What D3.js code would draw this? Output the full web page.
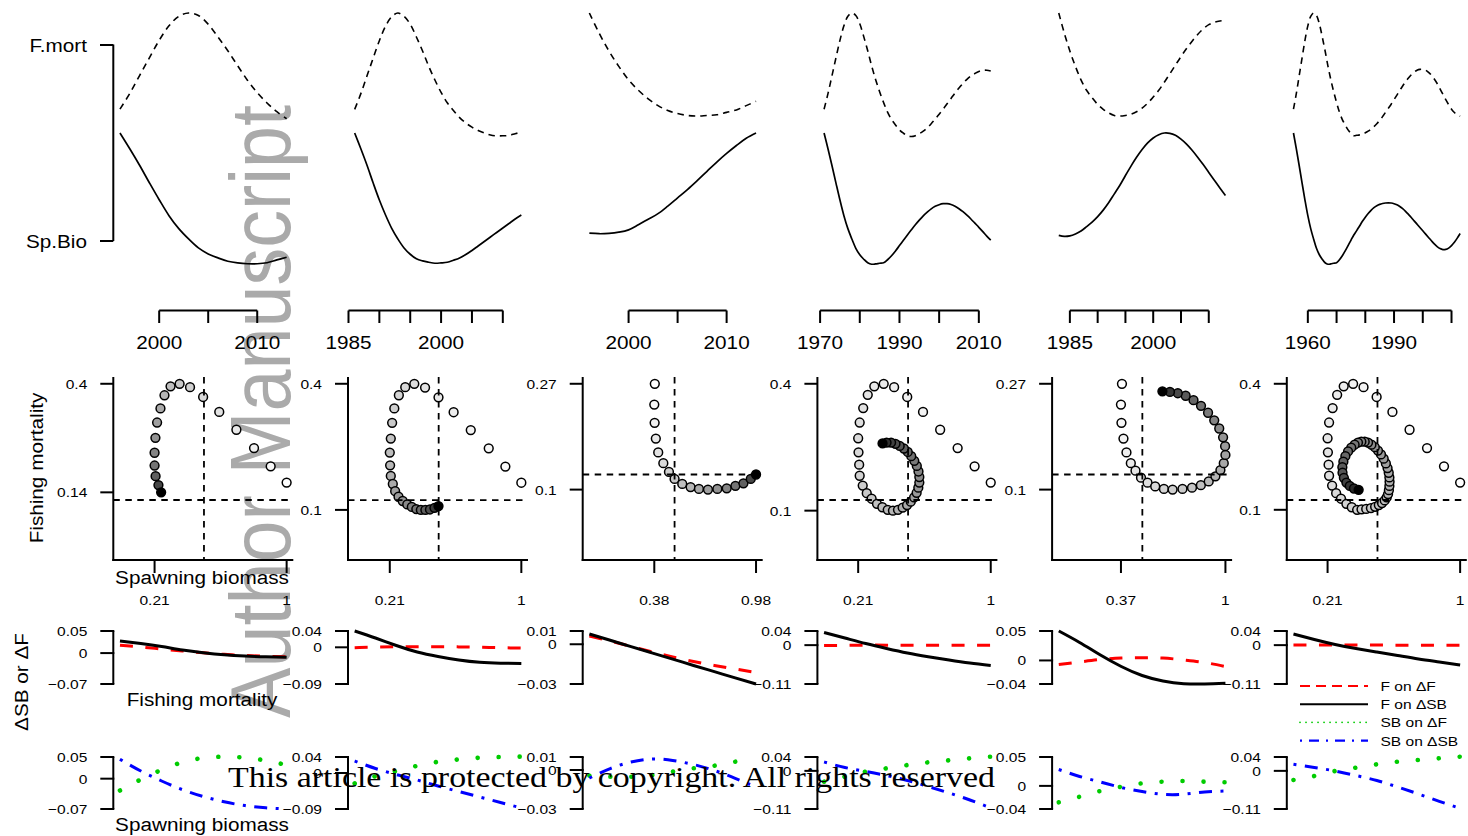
<!DOCTYPE html>
<html><head><meta charset="utf-8">
<script src="https://cdn.jsdelivr.net/npm/d3@7"></script>
<style>
html,body{margin:0;padding:0;background:#fff;}
svg{display:block;}
text{font-family:"Liberation Sans",Arial,sans-serif;fill:#000;}
</style></head><body>
<svg id="chart" width="1468" height="836"></svg>
<script>
// ---------------- DATA ----------------
const firstYears = [1996, 1986, 1996, 1971, 1983, 1955];

const sbCol1 = [0.992,0.897,0.798,0.693,0.591,0.495,0.417,0.355,0.301,0.265,0.241,0.221,0.211,0.206,0.206,0.212,0.229,0.245];
const fCol1  = [0.166,0.204,0.247,0.290,0.332,0.367,0.390,0.398,0.392,0.371,0.340,0.307,0.271,0.236,0.206,0.181,0.160,0.143];

const sbCol2 = [0.992,0.897,0.798,0.691,0.589,0.499,0.419,0.355,0.301,0.263,0.236,0.223,0.215,0.209,0.211,0.215,0.227,0.241,0.261,0.286,0.313,0.340,0.367,0.394,0.421,0.448,0.475,0.499];
const fCol2  = [0.166,0.204,0.247,0.290,0.332,0.367,0.390,0.399,0.391,0.372,0.341,0.307,0.270,0.237,0.207,0.182,0.163,0.146,0.133,0.123,0.115,0.109,0.104,0.102,0.102,0.103,0.107,0.111];

const sbCol3 = [0.384,0.381,0.383,0.390,0.404,0.434,0.467,0.500,0.545,0.594,0.643,0.696,0.751,0.806,0.857,0.904,0.947,0.978];
const fCol3  = [0.269,0.236,0.207,0.182,0.160,0.143,0.129,0.118,0.110,0.105,0.102,0.101,0.102,0.103,0.107,0.111,0.118,0.125];

const sbCol4 = [0.992,0.896,0.795,0.691,0.589,0.495,0.417,0.355,0.299,0.260,0.233,0.212,0.203,0.205,0.209,0.212,0.230,0.254,0.283,0.315,0.347,0.379,
                0.410,0.440,0.468,0.494,0.516,0.536,0.551,0.561,0.567,0.567,0.562,0.552,0.537,0.519,0.498,0.475,0.450,0.425,0.399,0.372,0.348];
const fCol4  = [0.166,0.204,0.247,0.290,0.332,0.367,0.390,0.398,0.392,0.372,0.341,0.307,0.270,0.237,0.208,0.182,0.159,0.141,0.128,0.116,0.108,0.102,
                0.100,0.102,0.107,0.113,0.121,0.131,0.142,0.154,0.166,0.179,0.192,0.205,0.217,0.228,0.238,0.246,0.252,0.257,0.260,0.260,0.258];

const sbCol5 = [0.378,0.372,0.375,0.387,0.405,0.431,0.459,0.492,0.531,0.577,0.629,0.681,
                0.740,0.797,0.850,0.897,0.937,0.967,0.987,0.997,0.995,0.983,0.960,0.930,0.893,0.851,0.806,0.759,0.712,0.665,0.620];
const fCol5  = [0.269,0.236,0.207,0.182,0.160,0.143,0.131,0.120,0.112,0.106,0.102,0.101,
                0.102,0.104,0.108,0.114,0.122,0.132,0.143,0.156,0.170,0.184,0.198,0.211,0.223,0.234,0.243,0.250,0.254,0.256,0.257];

const sbCol6 = [0.992,0.896,0.795,0.691,0.589,0.495,0.417,0.355,0.299,0.260,0.233,0.212,0.203,0.205,0.209,0.212,0.230,0.254,0.283,0.315,0.347,0.379,
                0.405,0.433,0.461,0.486,0.508,0.527,0.543,0.555,0.563,0.568,0.571,0.572,0.571,0.567,0.560,0.550,0.537,0.521,0.503,0.484,0.464,
                0.444,0.424,0.404,0.384,0.364,0.344,0.325,0.309,0.297,0.291,0.292,0.300,0.315,0.335,0.360,0.388];
const fCol6  = [0.166,0.204,0.247,0.290,0.332,0.367,0.390,0.398,0.392,0.372,0.341,0.307,0.270,0.237,0.208,0.182,0.159,0.141,0.128,0.116,0.108,0.102,
                0.103,0.104,0.106,0.109,0.113,0.118,0.124,0.131,0.139,0.148,0.158,0.168,0.178,0.189,0.200,0.211,0.222,0.232,0.241,0.249,0.255,
                0.260,0.262,0.262,0.260,0.255,0.248,0.239,0.228,0.215,0.202,0.189,0.177,0.166,0.158,0.152,0.149];

const yearTicks = [[2000,2005,2010],[1985,1990,1995,2000,2005,2010],[2000,2005,2010],
                   [1970,1980,1990,2000,2010],[1985,1990,1995,2000,2005,2010],[1960,1970,1980,1990,2000,2010]];
const yearLabels = [[2000,2010],[1985,2000],[2000,2010],[1970,1990,2010],[1985,2000],[1960,1990]];

const fTickLabels  = [["0.4","0.14"],["0.4","0.1"],["0.27","0.1"],["0.4","0.1"],["0.27","0.1"],["0.4","0.1"]];
const sbTickLabels = [["0.21","1"],["0.21","1"],["0.38","0.98"],["0.21","1"],["0.37","1"],["0.21","1"]];
const fRef = 0.125, sbRef = 0.5;

// effect curves (9 positions along x range)
const fOnDF1 = [0.018,0.0138,0.0092,0.0047,0.0006,-0.0028,-0.0055,-0.0071,-0.0082];
const fOnDSB1 = [0.0274,0.0217,0.0149,0.007,0.0009,-0.0037,-0.0066,-0.0084,-0.0095];
const sbOnDF1 = [-0.0273,-0.0019,0.0205,0.038,0.0477,0.0507,0.0484,0.0419,0.0315];
const sbOnDSB1 = [0.0447,0.0177,-0.0054,-0.0255,-0.0412,-0.0534,-0.062,-0.0672,-0.07];

const fOnDF2 = [-0.001,0.0005,0.0012,0.0015,0.0015,0.001,0,-0.001,-0.002];
const fOnDSB2 = [0.04,0.0228,0.0044,-0.0115,-0.0225,-0.0311,-0.0368,-0.039,-0.0397];
const sbOnDF2 = [-0.026,-0.008,0.005,0.018,0.028,0.034,0.038,0.04,0.041];
const sbOnDSB2 = [0.03,0.0113,-0.0038,-0.0175,-0.0325,-0.0463,-0.06,-0.0738,-0.0875];

const fOnDF3 = [0.0062,0.0025,-0.0017,-0.0058,-0.0096,-0.013,-0.016,-0.0187,-0.0213];
const fOnDSB3 = [0.0077,0.003,-0.0018,-0.0065,-0.0112,-0.016,-0.0207,-0.0254,-0.03];
const sbOnDF3 = [-0.0044,-0.0052,-0.0052,-0.0039,-0.0013,0.0013,0.0033,0.0064,0.0071];
const sbOnDSB3 = [-0.0062,0.0011,0.0061,0.0085,0.0073,0.0042,-0.0004,-0.0064,-0.0131];

const fOnDF4 = [-0.001,-0.0005,0,0,0,0,0,0,0];
const fOnDSB4 = [0.0357,0.0202,0.0046,-0.0095,-0.0223,-0.0327,-0.0421,-0.0506,-0.0576];
const sbOnDF4 = [-0.0312,-0.0168,-0.0024,0.0074,0.0169,0.0247,0.0305,0.0363,0.0409];
const sbOnDSB4 = [0.0256,0.0097,-0.0018,-0.0134,-0.0278,-0.0451,-0.0638,-0.084,-0.1071];

const fOnDF5 = [-0.0069,-0.0026,0.0016,0.0041,0.0047,0.0041,0.0008,-0.0035,-0.0103];
const fOnDSB5 = [0.05,0.0305,0.0092,-0.0103,-0.0256,-0.0349,-0.0395,-0.04,-0.0388];
const sbOnDF5 = [-0.0284,-0.0187,-0.0088,-0.0014,0.0045,0.0073,0.0085,0.0073,0.0062];
const sbOnDSB5 = [0.0284,0.0163,0.0067,-0.0028,-0.0097,-0.0146,-0.0144,-0.0106,-0.0088];

const fOnDF6 = [0.0005,0.0004,0.0003,0.0002,0.0001,0,0,-0.0001,-0.0002];
const fOnDSB6 = [0.0315,0.0159,0.0018,-0.0095,-0.0194,-0.0293,-0.0393,-0.0477,-0.0562];
const sbOnDF6 = [-0.0263,-0.0148,-0.0004,0.0092,0.019,0.0265,0.0314,0.0363,0.0409];
const sbOnDSB6 = [0.019,0.0097,-0.0004,-0.0134,-0.0278,-0.0465,-0.0667,-0.0878,-0.108];

const deltaTop    = [0.05, 0.04, 0.01, 0.04, 0.05, 0.04];
const deltaBottom = [-0.07, -0.09, -0.03, -0.11, -0.04, -0.11];
const deltaTopLabels    = ["0.05","0.04","0.01","0.04","0.05","0.04"];
const deltaBottomLabels = ["\u22120.07","\u22120.09","\u22120.03","\u22120.11","\u22120.04","\u22120.11"];

const legendLabels = ["F on \u0394F", "F on \u0394SB", "SB on \u0394F", "SB on \u0394SB"];

// ------------- assemble -------------
const sbCols = [sbCol1, sbCol2, sbCol3, sbCol4, sbCol5, sbCol6];
const fCols  = [fCol1, fCol2, fCol3, fCol4, fCol5, fCol6];
const effects = [
  [fOnDF1, fOnDSB1, sbOnDF1, sbOnDSB1],
  [fOnDF2, fOnDSB2, sbOnDF2, sbOnDSB2],
  [fOnDF3, fOnDSB3, sbOnDF3, sbOnDSB3],
  [fOnDF4, fOnDSB4, sbOnDF4, sbOnDSB4],
  [fOnDF5, fOnDSB5, sbOnDF5, sbOnDSB5],
  [fOnDF6, fOnDSB6, sbOnDF6, sbOnDSB6]
];

// ------------- layout -------------
const svg = d3.select('#chart');
const K = 1.15; // horizontal glyph widening of original font
const colLeft = i => 113.3 + i * 234.7;
const PW = 180;
const EXP = 0.04;
const AX = 2; // axis line width
const LBL = 26; // gap from axis to right edge of tick label

function stretch(sel, k) {
  sel.each(function () {
    const w = this.getComputedTextLength();
    this.setAttribute('textLength', w * (k || K));
    this.setAttribute('lengthAdjust', 'spacingAndGlyphs');
  });
  return sel;
}
function text(g, x, y, s, size, anchor, rot) {
  const t = g.append('text')
    .attr('font-size', size)
    .attr('text-anchor', anchor || 'start')
    .text(s);
  if (rot) t.attr('transform', `translate(${x},${y}) rotate(${rot})`);
  else t.attr('x', x).attr('y', y);
  stretch(t);
  return t;
}
function line(g, x1, y1, x2, y2, w) {
  g.append('line').attr('x1', x1).attr('y1', y1).attr('x2', x2).attr('y2', y2)
    .attr('stroke', '#000').attr('stroke-width', w || AX).attr('stroke-linecap', 'butt');
}

// watermark (behind)
const wm = svg.append('text')
  .attr('transform', 'translate(290,718) rotate(-90)')
  .attr('font-size', 86)
  .style('fill', '#aaaaaa')
  .text('Author Manuscript');
wm.attr('textLength', 613).attr('lengthAdjust', 'spacingAndGlyphs');

const g = svg.append('g');

// ---- Row 1: time series ----
const yFn = d3.scaleLinear().domain([0, 1]).range([178, 13]);
const ySBn = d3.scaleLinear().domain([0, 1]).range([298, 133]);

for (let c = 0; c < 6; c++) {
  const sb = sbCols[c], f = fCols[c], n = sb.length;
  const y0 = firstYears[c], y1 = y0 + n - 1;
  const pad = (y1 - y0) * EXP;
  const x = d3.scaleLinear().domain([y0 - pad, y1 + pad]).range([colLeft(c), colLeft(c) + PW]);
  const years = d3.range(y0, y1 + 1);
  const fMax = d3.max(f), sbMax = d3.max(sb);
  const gg = g.append('g');
  gg.append('path')
    .attr('d', d3.line().x((d, i) => x(years[i])).y(d => yFn(d / fMax)).curve(d3.curveCatmullRom.alpha(0.5))(f))
    .attr('fill', 'none').attr('stroke', '#000').attr('stroke-width', 1.6).attr('stroke-dasharray', '6.5 5');
  gg.append('path')
    .attr('d', d3.line().x((d, i) => x(years[i])).y(d => ySBn(d / sbMax)).curve(d3.curveCatmullRom.alpha(0.5))(sb))
    .attr('fill', 'none').attr('stroke', '#000').attr('stroke-width', 1.7);
  // year axis
  const tk = yearTicks[c];
  line(gg, x(tk[0]), 310.5, x(tk[tk.length - 1]), 310.5);
  tk.forEach(t => line(gg, x(t), 310.5, x(t), 323));
  yearLabels[c].forEach(t => text(gg, x(t), 349, String(t), 18, 'middle'));
}
// row1 y axis (col 1)
line(g, 113.3, 44.5, 113.3, 241);
line(g, 100, 45, 113.3, 45);
line(g, 100, 241, 113.3, 241);
text(g, 87, 51.5, 'F.mort', 18, 'end');
text(g, 87, 247.5, 'Sp.Bio', 18, 'end');

// ---- Row 2: phase plots ----
const PT = 377, PB = 560;
for (let c = 0; c < 6; c++) {
  const sb = sbCols[c], f = fCols[c], n = sb.length;
  const sbMax = d3.max(sb), fMax = d3.max(f);
  const sbMin = d3.min(sb), fMin = d3.min(f);
  const L = colLeft(c);
  const x = d3.scaleLinear().domain([-sbMax * EXP, sbMax * (1 + EXP)]).range([L, L + PW]);
  const y = d3.scaleLinear().domain([-fMax * EXP, fMax * (1 + EXP)]).range([PB, PT]);
  const gg = g.append('g');
  const pts = sb.map((s, i) => ({ s, f: f[i], i }));
  gg.selectAll('circle').data(pts).enter().append('circle')
    .attr('cx', d => x(d.s)).attr('cy', d => y(d.f)).attr('r', 4.4)
    .attr('fill', d => { const v = Math.round(255 * Math.pow(1 - d.i / (n - 1), 1 / 2.2)); return `rgb(${v},${v},${v})`; })
    .attr('stroke', '#000').attr('stroke-width', 1.5);
  // reference lines
  gg.append('line').attr('x1', x(sbRef)).attr('x2', x(sbRef)).attr('y1', PT).attr('y2', PB)
    .attr('stroke', '#000').attr('stroke-width', 1.8).attr('stroke-dasharray', '6.5 5.5');
  gg.append('line').attr('x1', L).attr('x2', L + PW).attr('y1', y(fRef)).attr('y2', y(fRef))
    .attr('stroke', '#000').attr('stroke-width', 1.8).attr('stroke-dasharray', '6.5 5.5');
  // axes (L box)
  line(gg, L, PT, L, PB + 1);
  line(gg, L - 1, PB, L + PW, PB);
  [fMax, fMin].forEach((v, k) => {
    line(gg, L - 13, y(v), L, y(v));
    text(gg, L - LBL, y(v) + 5, fTickLabels[c][k], 13.5, 'end');
  });
  [sbMin, sbMax].forEach((v, k) => {
    line(gg, x(v), PB, x(v), PB + 13);
    text(gg, x(v), 605, sbTickLabels[c][k], 13.5, 'middle');
  });
}
text(g, 43, 468, 'Fishing mortality', 18, 'middle', -90);
text(g, 202, 584, 'Spawning biomass', 18, 'middle');

// ---- Rows 3 & 4: effect curves ----
const rowsY = [[684, 631], [809, 757]];
const styles = [
  { color: '#ff0000', w: 3, dash: '13 12.5', cap: 'butt' },
  { color: '#000000', w: 3, dash: null, cap: 'butt' },
  { color: '#00cc00', w: 4.6, dash: '0.01 21', cap: 'round' },
  { color: '#0000ff', w: 3, dash: '3 8.5 13 8.5', cap: 'butt' }
];
for (let c = 0; c < 6; c++) {
  const L = colLeft(c);
  const gg = g.append('g');
  for (let r = 0; r < 2; r++) {
    const [yb, yt] = rowsY[r];
    const y = d3.scaleLinear().domain([deltaBottom[c], deltaTop[c]]).range([yb, yt]);
    const series = r === 0 ? [0, 1] : [2, 3];
    series.forEach(sIdx => {
      const vals = effects[c][sIdx];
      const m = vals.length;
      const x = d3.scaleLinear().domain([-(m - 1) * EXP, (m - 1) * (1 + EXP)]).range([L, L + PW]);
      const st = styles[sIdx];
      const p = gg.append('path')
        .attr('d', d3.line().x((d, i) => x(i)).y(d => y(d)).curve(d3.curveNatural)(vals))
        .attr('fill', 'none').attr('stroke', st.color).attr('stroke-width', st.w)
        .attr('stroke-linecap', st.cap);
      if (st.dash) p.attr('stroke-dasharray', st.dash);
    });
    // axis
    line(gg, L, yt, L, yb);
    [[deltaTop[c], deltaTopLabels[c]], [0, '0'], [deltaBottom[c], deltaBottomLabels[c]]].forEach(([v, lab]) => {
      line(gg, L - 13, y(v), L + 1, y(v));
      text(gg, L - LBL, y(v) + 5, lab, 13.5, 'end');
    });
  }
}
text(g, 202, 706, 'Fishing mortality', 18, 'middle');
text(g, 202, 831, 'Spawning biomass', 18, 'middle');
text(g, 28, 682, '\u0394SB or \u0394F', 18, 'middle', -90);

// legend
const legY = [686, 704.3, 722.3, 740.7];
const legStyles = [
  { color: '#ff0000', w: 2.2, dash: '10 6', cap: 'butt' },
  { color: '#000000', w: 2, dash: null, cap: 'butt' },
  { color: '#00cc00', w: 1.8, dash: '0.01 6', cap: 'round' },
  { color: '#0000ff', w: 2.2, dash: '2 7 10 7', cap: 'butt' }
];
legendLabels.forEach((lab, k) => {
  const st = legStyles[k];
  const l = g.append('line').attr('x1', 1300).attr('x2', 1368).attr('y1', legY[k]).attr('y2', legY[k])
    .attr('stroke', st.color).attr('stroke-width', st.w).attr('stroke-linecap', st.cap);
  if (st.dash) l.attr('stroke-dasharray', st.dash);
  text(g, 1380.5, legY[k] + 5, lab, 13.5, 'start');
});

// copyright notice (on top)
svg.append('text')
  .attr('x', 228).attr('y', 787)
  .attr('font-size', 30)
  .style('font-family', '"Liberation Serif","DejaVu Serif",serif')
  .attr('textLength', 767).attr('lengthAdjust', 'spacingAndGlyphs')
  .text('This article is protected by copyright. All rights reserved');
</script>
</body></html>
